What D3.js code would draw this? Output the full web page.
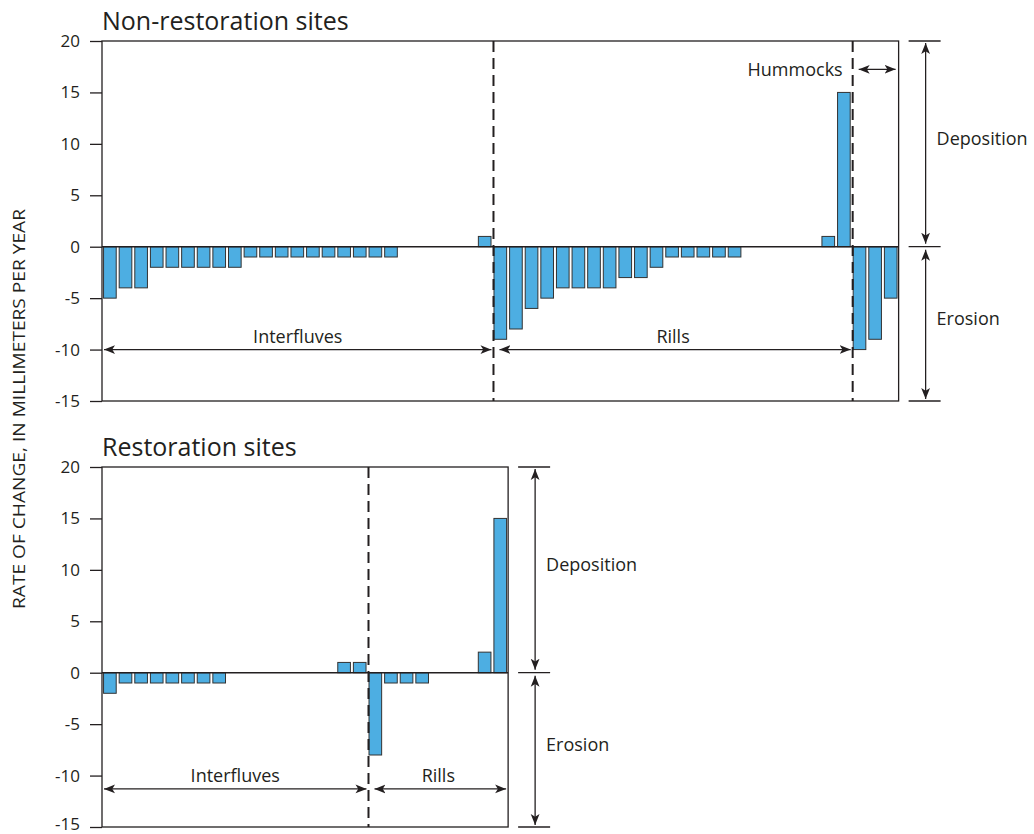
<!DOCTYPE html>
<html>
<head>
<meta charset="utf-8">
<script src="https://cdn.jsdelivr.net/npm/d3@7"></script>
<style>
  body { margin: 0; background: #fff; }
  svg text { font-family: "Open Sans", "Noto Sans", sans-serif; fill: #231f20; }
</style>
</head>
<body>
<svg id="chart" width="1034" height="834"></svg>
<script>
const yTicks = [20, 15, 10, 5, 0, -5, -10, -15];

// Non-restoration sites (null = empty slot)
const nonInterfluves = [-5, -4, -4, -2, -2, -2, -2, -2, -2, -1, -1, -1, -1, -1, -1, -1, -1, -1, -1, null, null, null, null, null, 1];
const nonRills = [-9, -8, -6, -5, -4, -4, -4, -4, -3, -3, -2, -1, -1, -1, -1, -1, null, null, null, null, null, 1, 15];
const nonHummocks = [-10, -9, -5];

// Restoration sites
const resInterfluves = [-2, -1, -1, -1, -1, -1, -1, -1, null, null, null, null, null, null, null, 1, 1];
const resRills = [-8, -1, -1, -1, null, null, null, 2, 15];

const ink = "#231f20";
const barFill = "#4daee2";
const step = 15.62;

const svg = d3.select("#chart");

// arrowhead marker
svg.append("defs").append("marker")
    .attr("id", "head")
    .attr("viewBox", "0 0 10 10")
    .attr("refX", 10).attr("refY", 5)
    .attr("markerWidth", 11).attr("markerHeight", 11)
    .attr("markerUnits", "userSpaceOnUse")
    .attr("orient", "auto-start-reverse")
  .append("path")
    .attr("d", "M0,1 L10,5 L0,9 L2.5,5 Z")
    .attr("fill", ink);

function arrow(g, x1, y1, x2, y2) {
    g.append("line")
        .attr("x1", x1).attr("y1", y1).attr("x2", x2).attr("y2", y2)
        .attr("stroke", ink).attr("stroke-width", 1.3)
        .attr("marker-start", "url(#head)")
        .attr("marker-end", "url(#head)");
}

function panel(opts) {
    const groups = opts.groups;
    const values = groups.flatMap(g => g.values);
    const n = values.length;
    const left = 102, right = left + n * step;
    const top = opts.top, bottom = opts.top + 360;

    const x = d3.scaleBand().domain(d3.range(n)).range([left, right])
        .paddingInner(0.19).paddingOuter(0.1);
    const y = d3.scaleLinear().domain([-15, 20]).range([bottom, top]);
    const g = svg.append("g");

    // title
    g.append("text")
        .attr("x", left).attr("y", top - 11)
        .attr("font-size", 25)
        .text(opts.title);

    // bars
    const data = values.map((v, i) => ({i, v})).filter(d => d.v !== null);
    g.selectAll("rect.bar").data(data).join("rect")
        .attr("class", "bar")
        .attr("x", d => x(d.i))
        .attr("width", x.bandwidth())
        .attr("y", d => Math.min(y(d.v), y(0)))
        .attr("height", d => Math.abs(y(d.v) - y(0)))
        .attr("fill", barFill)
        .attr("stroke", "#333")
        .attr("stroke-width", 1);

    // frame
    g.append("rect")
        .attr("x", left).attr("y", top)
        .attr("width", right - left).attr("height", bottom - top)
        .attr("fill", "none").attr("stroke", ink).attr("stroke-width", 1.3);

    // zero line
    g.append("line")
        .attr("x1", left).attr("x2", right)
        .attr("y1", y(0)).attr("y2", y(0))
        .attr("stroke", ink).attr("stroke-width", 1.5);

    // y axis
    const axis = g.append("g")
        .attr("transform", `translate(${left},0)`)
        .call(d3.axisLeft(y).tickValues(yTicks).tickSize(12).tickPadding(10)
            .tickFormat(d => String(d)));
    axis.select(".domain").remove();
    axis.selectAll(".tick line").attr("stroke", ink).attr("stroke-width", 1.3);
    axis.selectAll(".tick text")
        .attr("font-size", 17).attr("fill", ink)
        .attr("font-family", "\"Open Sans\", sans-serif");
    // keep the lowest label of the bottom panel inside the page
    if (opts.last) axis.selectAll(".tick text").filter(d => d === -15).attr("dy", "0.15em");

    // group dividers and range arrows
    let start = 0;
    const arrowY = opts.arrowY;
    groups.forEach((grp, k) => {
        const end = start + grp.values.length;
        const x0 = k === 0 ? left : x(start) - 0.5;
        const x1 = end === n ? right : x(end) - 0.5;
        if (end < n) {
            g.append("line")
                .attr("x1", x1).attr("x2", x1)
                .attr("y1", top).attr("y2", bottom)
                .attr("stroke", ink).attr("stroke-width", 2)
                .attr("stroke-dasharray", "11,6");
        }
        if (grp.label && !grp.side) {
            arrow(g, x0 + (k === 0 ? 2 : 6), y(arrowY), x1 - 2, y(arrowY));
            g.append("text")
                .attr("x", (x0 + x1) / 2).attr("y", y(arrowY) - 7)
                .attr("text-anchor", "middle").attr("font-size", 18)
                .text(grp.label);
        } else if (grp.side) {
            const ay = y(17.25);
            arrow(g, x0 + 6, ay, x1 - 3, ay);
            g.append("text")
                .attr("x", x0 - 10).attr("y", ay)
                .attr("dy", "0.35em")
                .attr("text-anchor", "end").attr("font-size", 18)
                .text(grp.label);
        }
        start = end;
    });

    // deposition / erosion brackets
    const bx0 = right + 10, bx1 = right + 42, ax = right + 27;
    [20, 0, -15].forEach(v => {
        g.append("line")
            .attr("x1", bx0).attr("x2", bx1)
            .attr("y1", y(v)).attr("y2", y(v))
            .attr("stroke", ink).attr("stroke-width", 1.3);
    });
    arrow(g, ax, y(20) + 2, ax, y(0) - 3);
    arrow(g, ax, y(0) + 3, ax, y(-15) - 2);
    g.append("text")
        .attr("x", right + 38).attr("y", y(10.5)).attr("dy", "0.35em")
        .attr("font-size", 18).text("Deposition");
    g.append("text")
        .attr("x", right + 38).attr("y", y(-7)).attr("dy", "0.35em")
        .attr("font-size", 18).text("Erosion");
}

panel({
    title: "Non-restoration sites",
    top: 41,
    arrowY: -10,
    groups: [
        {label: "Interfluves", values: nonInterfluves},
        {label: "Rills", values: nonRills},
        {label: "Hummocks", values: nonHummocks, side: true}
    ]
});

panel({
    title: "Restoration sites",
    top: 467,
    arrowY: -11.3,
    last: true,
    groups: [
        {label: "Interfluves", values: resInterfluves},
        {label: "Rills", values: resRills}
    ]
});

// shared y axis title
svg.append("text")
    .attr("transform", "translate(19,409) rotate(-90)")
    .attr("text-anchor", "middle")
    .attr("dy", "0.35em")
    .attr("font-size", 16)
    .attr("textLength", 400)
    .attr("lengthAdjust", "spacingAndGlyphs")
    .text("RATE OF CHANGE, IN MILLIMETERS PER YEAR");
</script>
</body>
</html>
